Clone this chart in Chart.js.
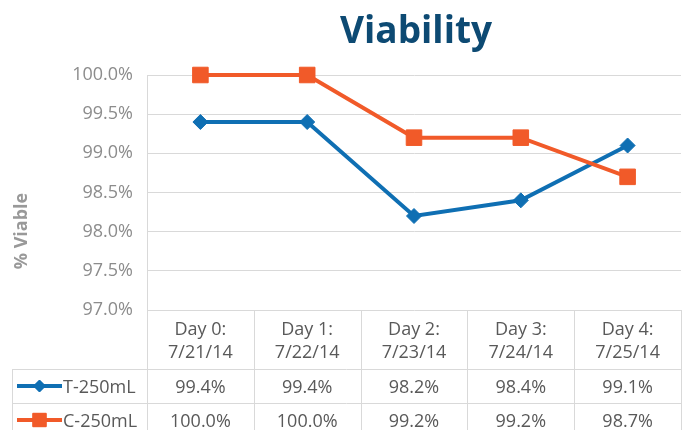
<!DOCTYPE html>
<html>
<head>
<meta charset="utf-8">
<script src="https://cdn.jsdelivr.net/npm/chart.js@4.4.1/dist/chart.umd.min.js"></script>
<style>
  html, body { margin: 0; padding: 0; background: #fff; }
  #wrap { width: 693px; height: 430px; }
</style>
</head>
<body>
<div id="wrap"><canvas id="chart" width="693" height="430"></canvas></div>
<script>
// data
var dayLabels = ["Day 0:", "Day 1:", "Day 2:", "Day 3:", "Day 4:"];
var dateLabels = ["7/21/14", "7/22/14", "7/23/14", "7/24/14", "7/25/14"];
var tValues = [99.4, 99.4, 98.2, 98.4, 99.1];
var cValues = [100.0, 100.0, 99.2, 99.2, 98.7];
var seriesNames = ["T-250mL", "C-250mL"];

const BLUE = "#0f6fb3";
const ORANGE = "#f15a29";
const GRID = "#d9d9d9";
const TICK_GRAY = "#8c8c8c";
const TEXT_GRAY = "#595959";
const FONT = "'Open Sans', 'Noto Sans', sans-serif";

// title, axis title and the data table below the plot
var tablePlugin = {
    id: "viabilityTable",
    afterDraw: function (chart) {
        var ctx = chart.ctx;
        var area = chart.chartArea;
        var xs = chart.scales.x;
        var n = dayLabels.length;
        var colW = (area.right - area.left) / n;
        var headBottom = area.bottom + 59;
        var row1Bottom = headBottom + 34;
        var row2Bottom = row1Bottom + 34;
        var legendLeft = 12;

        ctx.save();

        //Title
        ctx.fillStyle = "#0d4a73";
        ctx.font = "bold 37px " + FONT;
        ctx.textAlign = "center";
        ctx.textBaseline = "alphabetic";
        ctx.fillText("Viability", (area.left + area.right) / 2 + 2, 43);

        //Y axis title
        ctx.save();
        ctx.translate(27, 231);
        ctx.rotate(-Math.PI / 2);
        ctx.fillStyle = "#999999";
        ctx.font = "bold 18px " + FONT;
        ctx.fillText("% Viable", 0, 0);
        ctx.restore();

        //Table lines
        ctx.strokeStyle = GRID;
        ctx.lineWidth = 1;
        ctx.beginPath();
        for (var i = 0; i <= n; i++) {
            var bx = Math.round(area.left + colW * i) + 0.5;
            ctx.moveTo(bx, area.bottom);
            ctx.lineTo(bx, chart.height);
        }
        ctx.moveTo(legendLeft + 0.5, headBottom);
        ctx.lineTo(legendLeft + 0.5, chart.height);
        [headBottom, row1Bottom, row2Bottom].forEach(function (y) {
            ctx.moveTo(legendLeft, Math.round(y) + 0.5);
            ctx.lineTo(area.right, Math.round(y) + 0.5);
        });
        ctx.stroke();

        //Header texts
        ctx.fillStyle = TEXT_GRAY;
        ctx.font = "18px " + FONT;
        ctx.textAlign = "center";
        for (var i = 0; i < n; i++) {
            var cx = xs.getPixelForValue(i);
            ctx.fillText(dayLabels[i], cx, area.bottom + 25);
            ctx.fillText(dateLabels[i], cx, area.bottom + 48);
        }

        //Value rows
        var rows = [tValues, cValues];
        var baselines = [headBottom + 24, row1Bottom + 24];
        var colors = [BLUE, ORANGE];
        var styles = ["rectRot", "rect"];
        var radii = [6, 9.5];
        for (var r = 0; r < rows.length; r++) {
            ctx.fillStyle = TEXT_GRAY;
            ctx.textAlign = "center";
            for (var i = 0; i < n; i++) {
                ctx.fillText(rows[r][i].toFixed(1) + "%", xs.getPixelForValue(i), baselines[r]);
            }
            //legend glyph
            var ly = baselines[r] - 7;
            ctx.strokeStyle = colors[r];
            ctx.lineWidth = 4;
            ctx.beginPath();
            ctx.moveTo(17, ly);
            ctx.lineTo(62, ly);
            ctx.stroke();
            ctx.fillStyle = colors[r];
            ctx.lineWidth = 1;
            Chart.helpers.drawPoint(ctx, { pointStyle: styles[r], radius: radii[r], borderWidth: 1, rotation: 0 }, 39.5, ly);
            ctx.fill();
            ctx.fillStyle = TEXT_GRAY;
            ctx.textAlign = "left";
            ctx.fillText(seriesNames[r], 63, baselines[r]);
        }

        ctx.restore();
    }
};

var canvas = document.getElementById("chart");
var myChart = new Chart(canvas.getContext("2d"), {
    type: "line",
    data: {
        labels: dayLabels,
        datasets: [{
            label: seriesNames[0],
            data: tValues,
            borderColor: BLUE,
            backgroundColor: BLUE,
            borderWidth: 4,
            pointStyle: "rectRot",
            pointRadius: 7.5,
            pointBorderWidth: 1,
            pointBackgroundColor: BLUE,
            tension: 0,
            clip: false,
            order: 2
        }, {
            label: seriesNames[1],
            data: cValues,
            borderColor: ORANGE,
            backgroundColor: ORANGE,
            borderWidth: 4,
            pointStyle: "rect",
            pointRadius: 11,
            pointBorderWidth: 1,
            pointBackgroundColor: ORANGE,
            tension: 0,
            clip: false,
            order: 1
        }]
    },
    options: {
        responsive: false,
        animation: false,
        layout: { padding: { left: 0, top: 75, right: 6, bottom: 120 } },
        plugins: {
            legend: { display: false },
            title: { display: false },
            tooltip: { enabled: false }
        },
        scales: {
            x: {
                display: false,
                offset: true
            },
            y: {
                min: 97,
                max: 100,
                afterFit: function (scale) { scale.width = 147; },
                ticks: {
                    stepSize: 0.5,
                    padding: 14,
                    color: TICK_GRAY,
                    font: { family: FONT, size: 18 },
                    callback: function (v) { return v.toFixed(1) + "%"; }
                },
                grid: { color: GRID, drawTicks: false },
                border: { display: true, color: GRID }
            }
        }
    },
    plugins: [tablePlugin]
});
</script>
</body>
</html>
